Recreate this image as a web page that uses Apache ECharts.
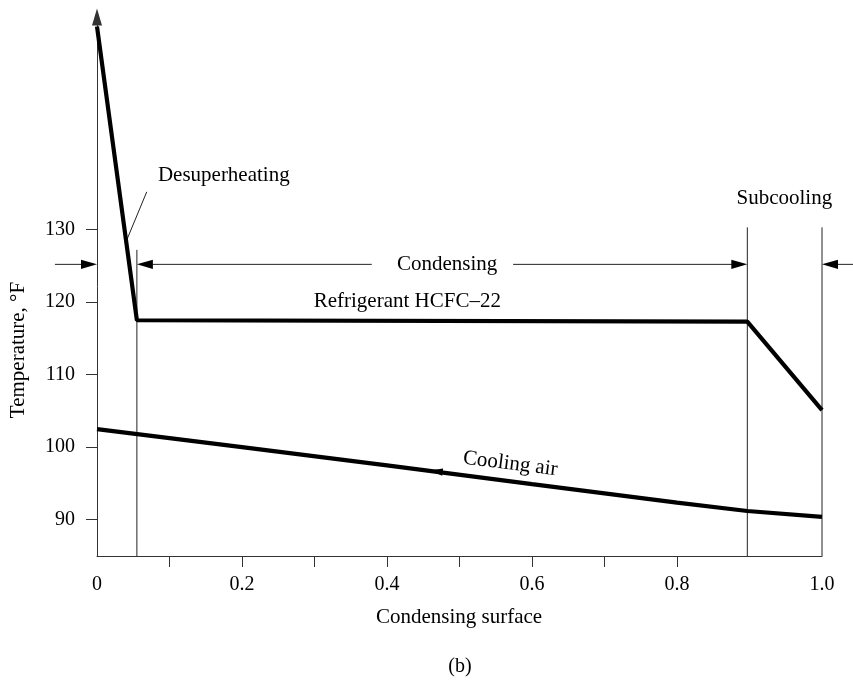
<!DOCTYPE html>
<html><head><meta charset="utf-8">
<script src="https://cdn.jsdelivr.net/npm/echarts@6/dist/echarts.min.js"></script>
<style>html,body{margin:0;padding:0;background:#fff}#c{width:853px;height:682px}</style>
</head><body><div id="c"></div>
<script>
// ---- data ----
const refrigerantX = [0, 0.055, 0.897, 1.0];
const refrigerantT = [158, 117.5, 117.3, 105.1];
const airX = [0, 0.2, 0.4, 0.6, 0.8, 0.897, 1.0];
const airT = [102.5, 100.0, 97.5, 94.9, 92.35, 91.2, 90.4];
const yTickValues = [90, 100, 110, 120, 130];
const xLabelValues = [0, 0.2, 0.4, 0.6, 0.8, 1.0];
const xTickValues = [0.1, 0.2, 0.3, 0.4, 0.5, 0.6, 0.7, 0.8];
// region boundaries: [x, top temperature]
const boundaryX = [0.055, 0.897, 1.0];
const boundaryTop = [127.2, 130.3, 130.3];
// dimension arrows at one temperature level: [tail x, tip x]
const dimLevel = 125.2;
const dimArrows = [[-0.058, 0], [0.379, 0.055], [0.574, 0.897], [1.043, 1.0]];
// leader line for "Desuperheating"
const leaderLine = [[0.0686, 135.2], [0.041, 128.55]];
// direction arrow on the cooling-air line: [tail, tip]
const airArrow = [[0.478, 96.55], [0.459, 96.8]];
// annotation texts
const noteText = ['Desuperheating', 'Condensing', 'Subcooling', 'Refrigerant HCFC\u201322', 'Cooling air'];
const noteX = [0.084, 0.483, 0.948, 0.428, 0.570];
const noteT = [137.4, dimLevel, 134.3, 120.15, 97.7];
const noteAlign = ['left', 'center', 'center', 'center', 'center'];
const noteRot = [0, 0, 0, 0, -0.125];

const FONT = '"Liberation Serif", "Times New Roman", serif';
const chart = echarts.init(document.getElementById('c'));

function arrowShapes(p0, p1, L, w, lw) {
  const dx = p1[0] - p0[0], dy = p1[1] - p0[1];
  const len = Math.sqrt(dx * dx + dy * dy) || 1;
  const ux = dx / len, uy = dy / len, nx = -uy, ny = ux;
  const bx = p1[0] - ux * L, by = p1[1] - uy * L;
  const out = [];
  if (len > L) {
    out.push({ type: 'line', shape: { x1: p0[0], y1: p0[1], x2: bx + ux * L * 0.5, y2: by + uy * L * 0.5 },
      style: { stroke: '#222', lineWidth: lw } });
  }
  out.push({ type: 'polygon', shape: { points: [[p1[0], p1[1]], [bx + nx * w, by + ny * w], [bx - nx * w, by - ny * w]] },
    style: { fill: '#000' } });
  return out;
}

const option = {
  animation: false,
  backgroundColor: '#fff',
  grid: { left: 97, right: 31, top: 17, bottom: 126, containLabel: false },
  xAxis: {
    type: 'value', min: 0, max: 1,
    axisLine: { show: true, onZero: false, lineStyle: { color: '#333', width: 1 } },
    axisTick: { show: true, customValues: xTickValues, length: 11, lineStyle: { color: '#333' } },
    axisLabel: { customValues: xLabelValues, margin: 19, color: '#000', fontSize: 20, fontFamily: FONT,
      formatter: v => (v === 0 ? '0' : v.toFixed(1)) },
    splitLine: { show: false }
  },
  yAxis: {
    type: 'value', min: 85, max: 159.3,
    axisLine: { show: true, onZero: false, symbol: ['none', 'triangle'], symbolSize: [10, 17],
      lineStyle: { color: '#333', width: 1 } },
    axisTick: { show: true, customValues: yTickValues, length: 11, lineStyle: { color: '#333' } },
    axisLabel: { customValues: yTickValues, margin: 22, color: '#000', fontSize: 20, fontFamily: FONT },
    splitLine: { show: false }
  },
  graphic: [
    { type: 'text', x: 459, y: 617, style: { text: 'Condensing surface', font: '21px ' + FONT, fill: '#000',
      align: 'center', verticalAlign: 'middle', textAlign: 'center', textVerticalAlign: 'middle' } },
    { type: 'text', x: 460, y: 667, style: { text: '(b)', font: '20px ' + FONT, fill: '#000',
      align: 'center', verticalAlign: 'middle', textAlign: 'center', textVerticalAlign: 'middle' } },
    { type: 'text', x: 18, y: 350, rotation: Math.PI / 2, style: { text: 'Temperature, \u00B0F', font: '21px ' + FONT, fill: '#000',
      align: 'center', verticalAlign: 'middle', textAlign: 'center', textVerticalAlign: 'middle' } }
  ],
  series: [
    {
      type: 'line', name: 'Refrigerant HCFC-22', symbol: 'none', z: 5,
      lineStyle: { color: '#000', width: 4.2 },
      data: refrigerantX.map((x, i) => [x, refrigerantT[i]])
    },
    {
      type: 'line', name: 'Cooling air', symbol: 'none', z: 5,
      lineStyle: { color: '#000', width: 4.2 },
      data: airX.map((x, i) => [x, airT[i]])
    },
    {
      type: 'custom', clip: false, z: 4,
      data: [0],
      renderItem: function (params, api) {
        const children = [];
        // boundaries
        boundaryX.forEach((x, i) => {
          const a = api.coord([x, boundaryTop[i]]), b = api.coord([x, 85]);
          children.push({ type: 'line', shape: { x1: a[0], y1: a[1], x2: b[0], y2: b[1] },
            style: { stroke: '#222', lineWidth: 1 } });
        });
        // dimension arrows
        dimArrows.forEach(d => {
          const p0 = api.coord([d[0], dimLevel]), p1 = api.coord([d[1], dimLevel]);
          arrowShapes(p0, p1, 16, 4.6, 1).forEach(s => children.push(s));
        });
        // leader line
        const l0 = api.coord(leaderLine[0]), l1 = api.coord(leaderLine[1]);
        children.push({ type: 'line', shape: { x1: l0[0], y1: l0[1], x2: l1[0], y2: l1[1] },
          style: { stroke: '#222', lineWidth: 1 } });
        // cooling air arrow head
        const a0 = api.coord(airArrow[0]), a1 = api.coord(airArrow[1]);
        children.push({ type: 'polygon', shape: (function () {
          const dx = a1[0] - a0[0], dy = a1[1] - a0[1], len = Math.sqrt(dx * dx + dy * dy);
          const ux = dx / len, uy = dy / len, nx = -uy, ny = ux, L = 13, w = 3.6;
          const bx = a1[0] - ux * L, by = a1[1] - uy * L;
          return { points: [a1, [bx + nx * w, by + ny * w], [bx - nx * w, by - ny * w]] };
        })(), style: { fill: '#000' }, z2: 10 });
        // texts
        noteText.forEach((t, i) => {
          const p = api.coord([noteX[i], noteT[i]]);
          children.push({ type: 'text', x: p[0], y: p[1], rotation: noteRot[i],
            style: { text: t, font: '21px ' + FONT, fill: '#000',
              align: noteAlign[i], verticalAlign: 'middle', textAlign: noteAlign[i], textVerticalAlign: 'middle' } });
        });
        return { type: 'group', children: children };
      }
    }
  ]
};
chart.setOption(option);
</script>
</body></html>
